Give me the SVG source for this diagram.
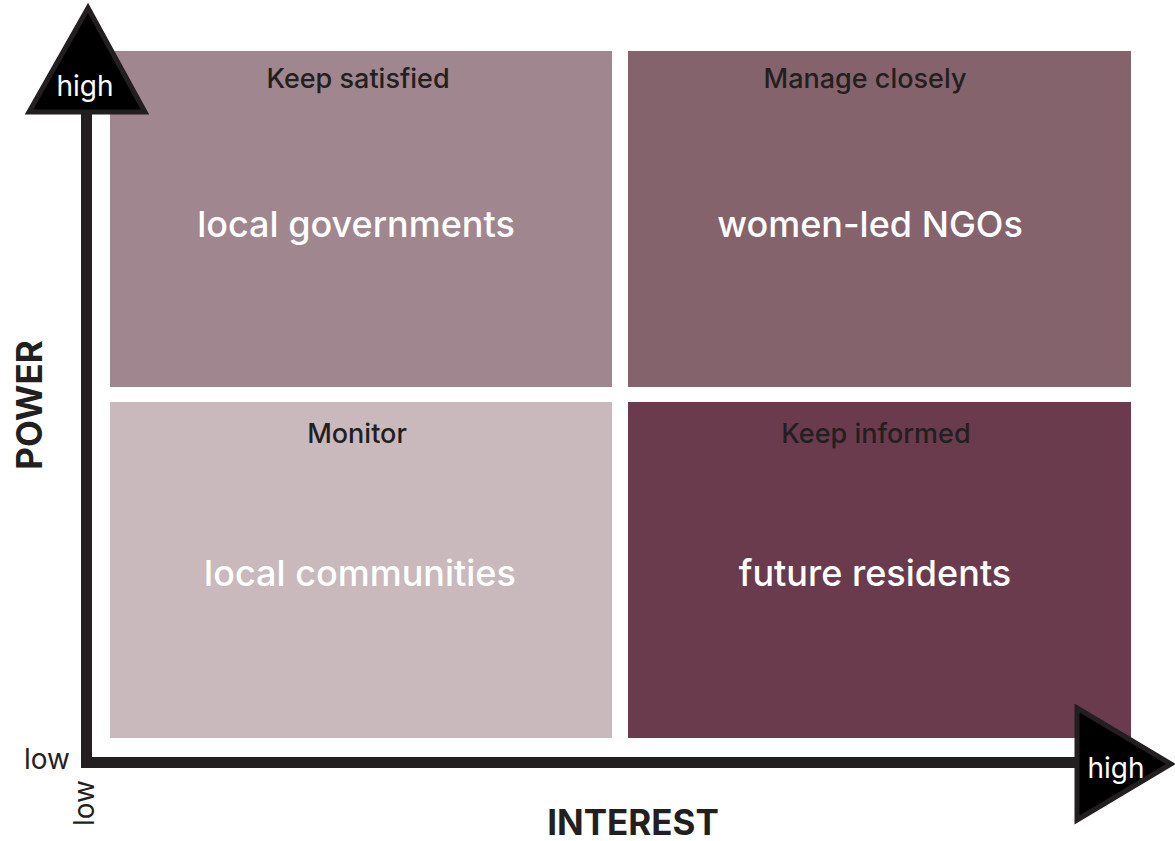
<svg xmlns="http://www.w3.org/2000/svg" width="1175" height="841" viewBox="0 0 1175 841">
<style>
.lbl{font-family:Inter,"Liberation Sans",sans-serif;font-size:27px;font-weight:500;fill:#231f20;text-anchor:middle}
.big{font-family:Inter,"Liberation Sans",sans-serif;font-size:36px;font-weight:500;fill:#ffffff;text-anchor:middle}
.ax{font-family:Inter,"Liberation Sans",sans-serif;font-size:28px;fill:#231f20}
.axw{font-family:Inter,"Liberation Sans",sans-serif;font-size:28px;fill:#ffffff;text-anchor:middle}
.title{font-family:Inter,"Liberation Sans",sans-serif;font-size:35px;font-weight:bold;fill:#231f20;text-anchor:middle}
</style>
<rect width="1175" height="841" fill="#ffffff"/>
<g id="q-keep-satisfied">
<rect x="110" y="51" width="502" height="336" fill="#a0868f"/>
<text class="lbl" x="358" y="88">Keep satisfied</text>
<text class="big" x="356" y="237">local governments</text>
</g>
<g id="q-manage-closely">
<rect x="628" y="51" width="503" height="336" fill="#85636d"/>
<text class="lbl" x="865" y="88">Manage closely</text>
<text class="big" x="870" y="237">women-led NGOs</text>
</g>
<g id="q-monitor">
<rect x="110" y="402" width="502" height="336" fill="#c9b9bd"/>
<text class="lbl" x="357" y="443">Monitor</text>
<text class="big" x="360" y="586">local communities</text>
</g>
<g id="q-keep-informed">
<rect x="628" y="402" width="503" height="336" fill="#6a3b4d"/>
<text class="lbl" x="876" y="443">Keep informed</text>
<text class="big" x="875" y="586">future residents</text>
</g>
<g id="connectors">
<path d="M86.5 110 V762.5 H1080" fill="none" stroke="#231f20" stroke-width="11"/>
</g>
<g id="power-axis-head">
<polygon points="88,8 29,112 145,112" fill="#000000" stroke="#231f20" stroke-width="5" stroke-linejoin="miter"/>
<text class="axw" x="85" y="96">high</text>
</g>
<g id="interest-axis-head">
<polygon points="1077,708 1171,764 1077,820" fill="#000000" stroke="#231f20" stroke-width="5"/>
<text class="axw" x="1116" y="778">high</text>
</g>
<g id="labels">
<text class="ax" x="24" y="769">low</text>
<text class="ax" transform="translate(94,826) rotate(-90)">low</text>
<text class="title" transform="translate(42,405) rotate(-90)">POWER</text>
<text class="title" x="633" y="835">INTEREST</text>
</g>
</svg>
